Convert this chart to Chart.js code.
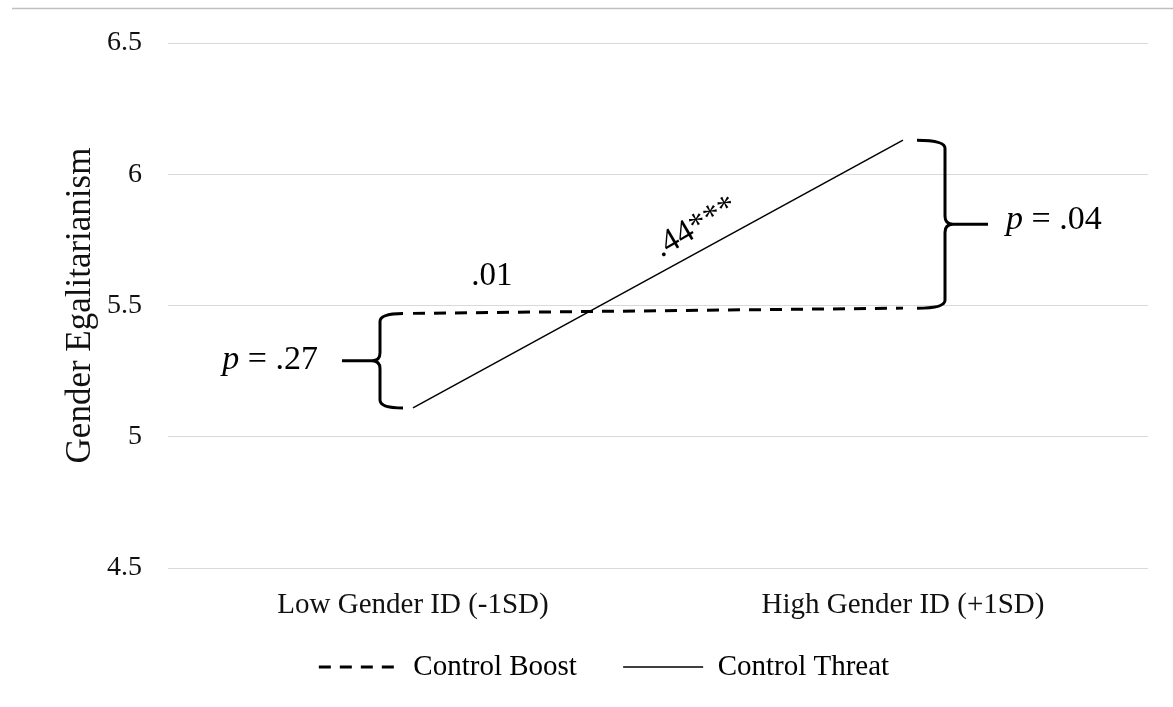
<!doctype html>
<html lang="en">
<head>
    <meta charset="utf-8">
    <title>Gender Egalitarianism</title>
    <script src="https://cdn.jsdelivr.net/npm/chart.js"></script>
    <style>
        body {
            background-color: #ffffff;
            margin: 0;
            padding: 0;
        }
        .chart-box {
            width: 1173px;
            height: 707px;
        }
    </style>
</head>
<body>
    <div class="chart-box">
        <canvas id="interactionChart"></canvas>
    </div>
    <script>
        // values
        const categories = ['Low Gender ID (-1SD)', 'High Gender ID (+1SD)'];
        const controlBoost = [5.47, 5.49];
        const controlThreat = [5.11, 6.13];
        const yTicks = [4.5, 5, 5.5, 6, 6.5];

        const boostSlope = '.01';
        const threatSlope = '.44***';
        const lowDiff = '.27';
        const highDiff = '.04';

        const serif = 'Liberation Serif, Times New Roman, serif';

        function drawBrace(ctx, bx, yTop, yBot, dir, hook, tip) {
            const r = 8;
            const ym = (yTop + yBot) / 2;
            ctx.beginPath();
            ctx.moveTo(bx - dir * hook, yTop);
            ctx.quadraticCurveTo(bx, yTop, bx, yTop + r);
            ctx.lineTo(bx, ym - r);
            ctx.quadraticCurveTo(bx, ym, bx + dir * r, ym);
            ctx.lineTo(bx + dir * tip, ym);
            ctx.moveTo(bx + dir * r, ym);
            ctx.quadraticCurveTo(bx, ym, bx, ym + r);
            ctx.lineTo(bx, yBot - r);
            ctx.quadraticCurveTo(bx, yBot, bx - dir * hook, yBot);
            ctx.stroke();
        }

        function drawPValue(ctx, value, x, y, align) {
            const italic = 'italic 34px ' + serif;
            const normal = '34px ' + serif;
            const rest = ' = ' + value;
            ctx.font = italic;
            const wp = ctx.measureText('p').width;
            ctx.font = normal;
            const wr = ctx.measureText(rest).width;
            let start = align === 'right' ? x - wp - wr : x;
            ctx.textAlign = 'left';
            ctx.textBaseline = 'alphabetic';
            ctx.font = italic;
            ctx.fillText('p', start, y);
            ctx.font = normal;
            ctx.fillText(rest, start + wp, y);
        }

        const annotationPlugin = {
            id: 'annotations',
            beforeDraw(chart) {
                const ctx = chart.ctx;
                ctx.save();
                ctx.strokeStyle = '#bfbfbf';
                ctx.lineWidth = 1.5;
                ctx.beginPath();
                ctx.moveTo(12, 8.5);
                ctx.lineTo(chart.width, 8.5);
                ctx.stroke();
                ctx.restore();
            },
            afterDatasetsDraw(chart) {
                const ctx = chart.ctx;
                const xs = chart.scales.x;
                const ys = chart.scales.y;
                const x0 = xs.getPixelForValue(0);
                const x1 = xs.getPixelForValue(1);
                ctx.save();
                ctx.strokeStyle = '#000';
                ctx.fillStyle = '#000';
                ctx.lineWidth = 3;

                // braces for the simple effects
                const lTop = ys.getPixelForValue(controlBoost[0]);
                const lBot = ys.getPixelForValue(controlThreat[0]);
                drawBrace(ctx, x0 - 33, lTop, lBot, -1, 23, 38);
                const rTop = ys.getPixelForValue(controlThreat[1]);
                const rBot = ys.getPixelForValue(controlBoost[1]);
                drawBrace(ctx, x1 + 42, rTop, rBot, 1, 28, 43);

                drawPValue(ctx, lowDiff, x0 - 33 - 38 - 24, (lTop + lBot) / 2 + 8, 'right');
                drawPValue(ctx, highDiff, x1 + 42 + 43 + 18, (rTop + rBot) / 2 + 5, 'left');

                // slope labels
                ctx.font = '33px ' + serif;
                ctx.textAlign = 'center';
                ctx.textBaseline = 'alphabetic';
                ctx.fillText(boostSlope, x0 + (x1 - x0) * 0.161, ys.getPixelForValue(5.578));

                const ang = Math.atan2(ys.getPixelForValue(controlThreat[1]) - ys.getPixelForValue(controlThreat[0]), x1 - x0);
                ctx.translate(x0 + (x1 - x0) * 0.586, ys.getPixelForValue(5.769));
                ctx.rotate(ang - 0.03);
                ctx.fillText(threatSlope, 0, 0);
                ctx.restore();
            }
        };

        Chart.defaults.font.family = serif;
        Chart.defaults.color = '#111';

        const interactionChart = new Chart(document.getElementById('interactionChart').getContext('2d'), {
            type: 'line',
            data: {
                labels: categories,
                datasets: [
                    {
                        label: 'Control Boost',
                        data: controlBoost,
                        borderColor: '#000',
                        borderWidth: 3,
                        borderDash: [12, 9],
                        fill: false,
                        pointRadius: 0,
                        tension: 0
                    },
                    {
                        label: 'Control Threat',
                        data: controlThreat,
                        borderColor: '#000',
                        borderWidth: 1.5,
                        fill: false,
                        pointRadius: 0,
                        tension: 0
                    }
                ]
            },
            options: {
                responsive: true,
                maintainAspectRatio: false,
                animation: false,
                layout: { padding: { top: 43, left: 60, right: 25, bottom: 15.5 } },
                scales: {
                    x: {
                        offset: true,
                        grid: { display: false, drawTicks: false },
                        border: { display: false },
                        ticks: { font: { size: 29 }, padding: 20, color: '#111' },
                        afterFit(scale) { scale.height = 74.5; }
                    },
                    y: {
                        min: 4.5,
                        max: 6.5,
                        afterBuildTicks(scale) {
                            scale.ticks = yTicks.map(v => ({ value: v }));
                        },
                        grid: { color: '#d9d9d9', lineWidth: 1, drawTicks: false },
                        border: { display: false },
                        ticks: {
                            font: { size: 28 },
                            padding: 26,
                            color: '#111',
                            callback: v => String(v)
                        },
                        title: {
                            display: true,
                            text: 'Gender Egalitarianism',
                            font: { size: 35 },
                            color: '#111',
                            padding: { top: 0, bottom: 0 }
                        },
                        afterFit(scale) { scale.width = 108; }
                    }
                },
                plugins: {
                    legend: {
                        position: 'bottom',
                        labels: {
                            usePointStyle: true,
                            pointStyle: 'line',
                            pointStyleWidth: 80,
                            padding: 10,
                            color: '#111',
                            font: { size: 29 },
                            generateLabels(chart) {
                                return chart.data.datasets.map((ds, i) => ({
                                    // trailing spaces widen the gap between the two entries
                                    text: i === 0 ? ds.label + '     ' : ds.label,
                                    datasetIndex: i,
                                    fillStyle: ds.borderColor,
                                    strokeStyle: ds.borderColor,
                                    lineWidth: ds.borderWidth,
                                    lineDash: ds.borderDash || [],
                                    pointStyle: 'line',
                                    hidden: false
                                }));
                            }
                        }
                    },
                    tooltip: { enabled: false }
                }
            },
            plugins: [annotationPlugin]
        });
    </script>
</body>
</html>
